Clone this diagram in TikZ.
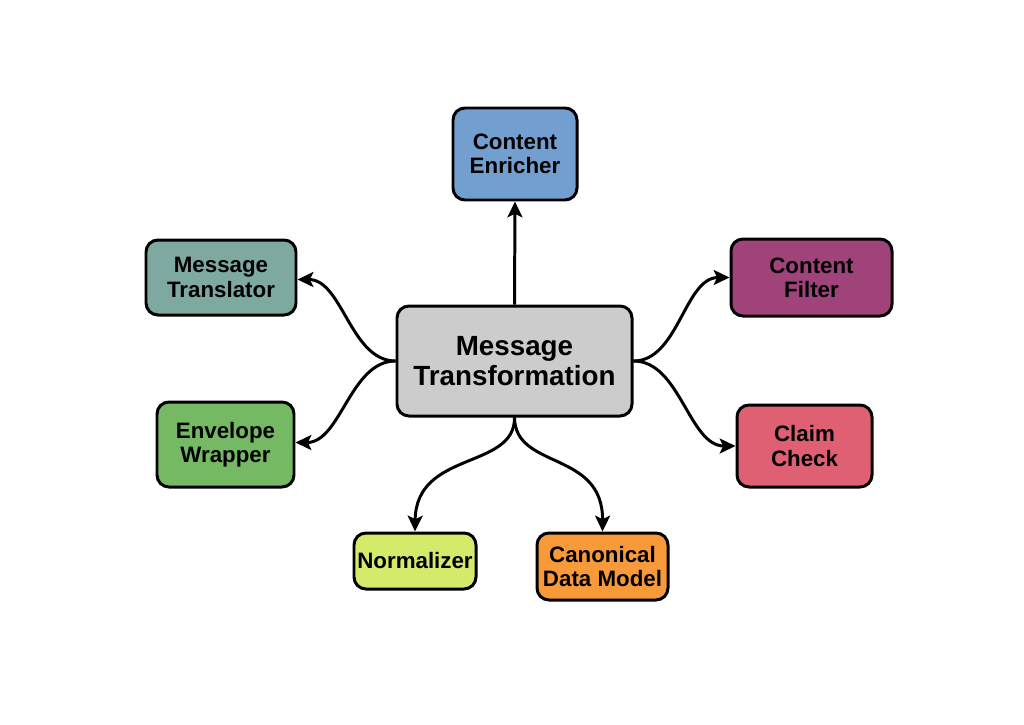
\documentclass[tikz,border=0pt]{standalone}
\usepackage{fontspec}
\setmainfont{Liberation Sans}
\usetikzlibrary{arrows.meta}
\definecolor{cgray}{HTML}{CCCCCC}
\definecolor{cblue}{HTML}{729FCF}
\definecolor{cteal}{HTML}{7DA9A1}
\definecolor{cpurple}{HTML}{A0437B}
\definecolor{cgreen}{HTML}{75B964}
\definecolor{cred}{HTML}{E06073}
\definecolor{cyellow}{HTML}{D4EA6B}
\definecolor{corange}{HTML}{F89A3A}
\tikzset{
  box/.style={draw=black, line width=1.7pt, rounded corners=0.24cm, align=center,
    font=\bfseries\fontsize{12.7}{13.8}\selectfont, inner sep=0pt},
  conn/.style={line width=1.7pt, -{Stealth[length=9pt,width=8.5pt,inset=2pt]}},
}
\begin{document}
\begin{tikzpicture}[x=0.02cm,y=-0.02cm]
\useasboundingbox (0,0) rectangle (1024,724);
\node[box, fill=cgray, minimum width=235*0.02cm, minimum height=110*0.02cm,
  font=\bfseries\fontsize{15.8}{17}\selectfont] (c) at (514.5,361) {Message\\Transformation};
\node[box, fill=cblue, minimum width=124*0.02cm, minimum height=92*0.02cm] (ce) at (515,154) {Content\\Enricher};
\node[box, fill=cteal, minimum width=150*0.02cm, minimum height=75*0.02cm] (mt) at (221,277.5) {Message\\Translator};
\node[box, fill=cpurple, minimum width=161*0.02cm, minimum height=77*0.02cm] (cf) at (811.5,277.5) {Content\\Filter};
\node[box, fill=cgreen, minimum width=137*0.02cm, minimum height=85*0.02cm] (ew) at (225.5,444.5) {Envelope\\Wrapper};
\node[box, fill=cred, minimum width=135*0.02cm, minimum height=82*0.02cm] (cc) at (804.5,446) {Claim\\Check};
\node[box, fill=cyellow, minimum width=122*0.02cm, minimum height=56*0.02cm] (nz) at (415,561) {Normalizer};
\node[box, fill=corange, minimum width=131*0.02cm, minimum height=67*0.02cm] (cd) at (602.5,566.5) {Canonical\\Data Model};
\draw[conn] (c.north) -- (ce.south);
\draw[conn] (c.west) to[out=180,in=0,looseness=0.9] ([yshift=-0.04cm]mt.east);
\draw[conn] (c.west) to[out=180,in=0,looseness=0.9] ([yshift=0.04cm]ew.east);
\draw[conn] (c.east) to[out=0,in=180,looseness=0.9] (cf.west);
\draw[conn] (c.east) to[out=0,in=180,looseness=0.9] (cc.west);
\draw[conn] (c.south) .. controls (515,470) and (416,450) .. (nz.north);
\draw[conn] (c.south) .. controls (515,470) and (603,450) .. (cd.north);
\end{tikzpicture}
\end{document}
